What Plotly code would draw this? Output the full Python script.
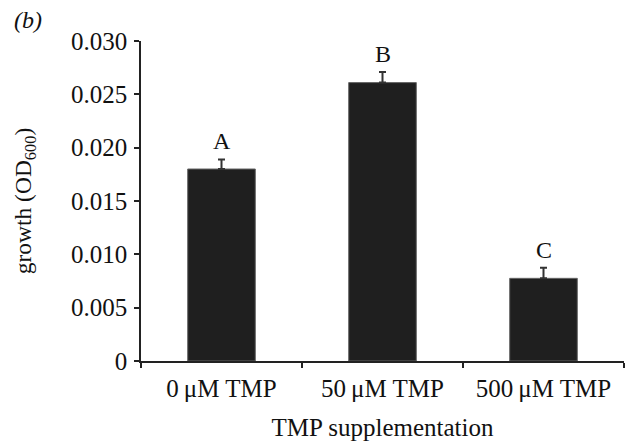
import plotly.graph_objects as go

categories = ["0\u2009\u03bcM TMP", "50\u2009\u03bcM TMP", "500\u2009\u03bcM TMP"]
growth = [0.0180, 0.0261, 0.00775]
err_up = [0.0009, 0.0010, 0.0010]
letters = ["A", "B", "C"]
ytick_vals = [0, 0.005, 0.010, 0.015, 0.020, 0.025, 0.030]
ytick_text = ["0", "0.005", "0.010", "0.015", "0.020", "0.025", "0.030"]

FONT = "Liberation Serif, Times New Roman, serif"

fig = go.Figure()
fig.add_trace(go.Bar(
    x=categories, y=growth, width=0.42,
    marker=dict(color="#1f1f1f", line=dict(color="#666666", width=1)),
    error_y=dict(type="data", array=err_up, arrayminus=[0]*len(err_up), symmetric=False,
                 color="#333333", thickness=2, width=3.5),
    showlegend=False,
))

for c, v, e, l in zip(categories, growth, err_up, letters):
    fig.add_annotation(x=c, y=v + e, text=l, showarrow=False, yanchor="bottom", yshift=3,
                       font=dict(family=FONT, size=24, color="#111111"))

fig.add_annotation(xref="paper", yref="paper", x=-0.268, y=1.066, text="<i>(b)</i>",
                   showarrow=False, xanchor="left", yanchor="middle",
                   font=dict(family=FONT, size=24, color="#111111"))

fig.update_layout(
    width=641, height=448,
    margin=dict(l=141, r=17, t=41, b=87),
    plot_bgcolor="white", paper_bgcolor="white",
    font=dict(family=FONT, size=25, color="#111111"),
    bargap=0.58,
)
fig.update_xaxes(
    showline=True, linecolor="#222222", linewidth=1.5,
    ticks="outside", tickson="boundaries", ticklen=5, tickwidth=1.5, tickcolor="#222222",
    tickfont=dict(family=FONT, size=25), ticklabelstandoff=4,
    title=dict(text="TMP supplementation", font=dict(family=FONT, size=25), standoff=18),
    range=[-0.5, 2.5], showgrid=False, zeroline=False,
)
fig.update_yaxes(
    showline=True, linecolor="#222222", linewidth=1.5,
    ticks="outside", ticklen=5, tickwidth=1.5, tickcolor="#222222",
    tickvals=ytick_vals, ticktext=ytick_text,
    tickfont=dict(family=FONT, size=25), ticklabelstandoff=2,
    range=[0, 0.030], showgrid=False, zeroline=False,
    title=dict(text="growth (OD<sub>600</sub>)", font=dict(family=FONT, size=23.5), standoff=33),
)

fig.write_html("out.html")
